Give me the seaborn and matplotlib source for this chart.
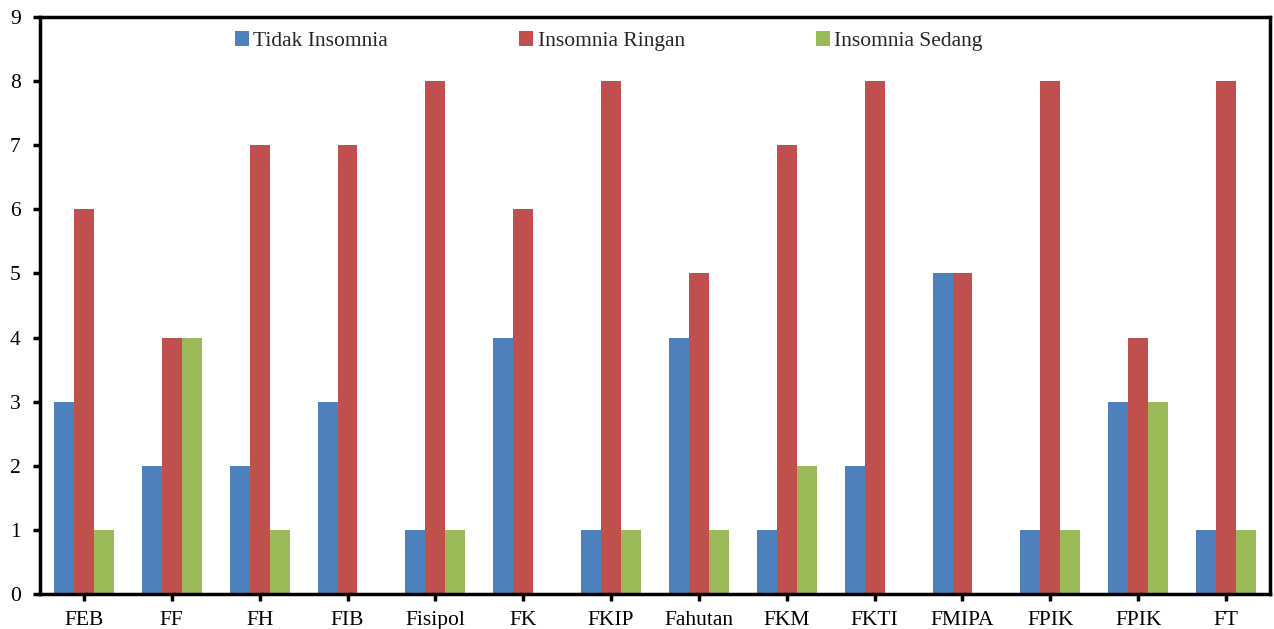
import matplotlib
matplotlib.use("Agg")
import matplotlib.pyplot as plt
import seaborn as sns
import pandas as pd

faculties = ["FEB", "FF", "FH", "FIB", "Fisipol", "FK", "FKIP", "Fahutan",
             "FKM", "FKTI", "FMIPA", "FPIK", "FPIK", "FT"]
tidak_insomnia = [3, 2, 2, 3, 1, 4, 1, 4, 1, 2, 5, 1, 3, 1]
insomnia_ringan = [6, 4, 7, 7, 8, 6, 8, 5, 7, 8, 5, 8, 4, 8]
insomnia_sedang = [1, 4, 1, 0, 1, 0, 1, 1, 2, 0, 0, 1, 3, 1]
series_names = ["Tidak Insomnia", "Insomnia Ringan", "Insomnia Sedang"]
colors = ["#4F81BD", "#C0504D", "#9BBB59"]

rows = []
for i, name in enumerate(faculties):
    for s, vals in zip(series_names, [tidak_insomnia, insomnia_ringan, insomnia_sedang]):
        rows.append({"pos": i, "series": s, "value": vals[i]})
df = pd.DataFrame(rows)

sns.set_theme(style="white")
plt.rcParams["font.family"] = ["Liberation Serif", "DejaVu Serif"]

fig = plt.figure(figsize=(12.74, 6.29), dpi=100)
ax = fig.add_axes([40 / 1274, 1 - 594 / 629, 1230 / 1274, 577 / 629])

sns.barplot(data=df, x="pos", y="value", hue="series", hue_order=series_names,
            palette=colors, width=0.68, gap=0, dodge=True, ax=ax,
            saturation=1, linewidth=0, errorbar=None, legend=True)

ax.set_ylim(0, 9)
ax.set_yticks(range(0, 10))
ax.set_xlim(-0.5, len(faculties) - 0.5)
ax.set_xticks(range(len(faculties)))
ax.set_xticklabels(faculties)
ax.set_xlabel("")
ax.set_ylabel("")

for sp in ax.spines.values():
    sp.set_visible(True)
    sp.set_color("black")
    sp.set_linewidth(2.5)

ax.tick_params(axis="both", which="major", labelsize=15.5, colors="black",
               direction="out", length=5, width=2.5, left=True, bottom=True)
ax.tick_params(axis="x", pad=7)
ax.tick_params(axis="y", pad=9)

leg = ax.legend(loc="upper left", bbox_to_anchor=(0.1585, 0.975), ncol=3,
                frameon=False, fontsize=15.5, handlelength=0.65, handleheight=0.65,
                handletextpad=0.2, columnspacing=6.1, borderpad=0,
                borderaxespad=0)

fig.savefig("out.png", dpi=100)
